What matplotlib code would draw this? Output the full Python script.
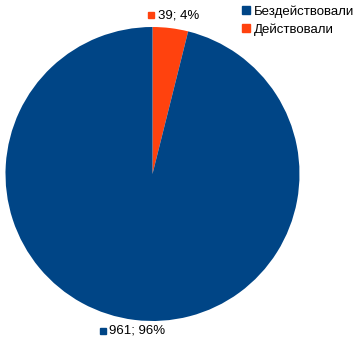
import matplotlib
matplotlib.use("Agg")
import matplotlib.pyplot as plt
from matplotlib.lines import Line2D

plt.rcParams['font.family'] = ['Liberation Sans', 'DejaVu Sans']

categories = ["Действовали", "Бездействовали"]
values = [39, 961]
colors = ["#ff420e", "#004586"]
legend_order = ["Бездействовали", "Действовали"]

W, H = 355, 344
fig = plt.figure(figsize=(W / 100, H / 100), dpi=100)
cx, cy, r = 152.5, 174, 147
ax = fig.add_axes([(cx - r) / W, (H - cy - r) / H, 2 * r / W, 2 * r / H])
wedges, _ = ax.pie(values, colors=colors, startangle=90, counterclock=False,
                   radius=1.0, wedgeprops=dict(linewidth=0))
ax.set_xlim(-1, 1)
ax.set_ylim(-1, 1)
ax.set_aspect('equal')
ax.axis('off')

total = sum(values)
label_pos = [(-0.01, 1.08), (-0.34, -1.065)]
for v, c, (lx, ly) in zip(values, colors, label_pos):
    ax.plot([lx], [ly], marker='s', color=c, markersize=5, clip_on=False)
    ax.text(lx + 0.045, ly, f"{v}; {v / total * 100:.0f}%", fontsize=9.5,
            va='center', ha='left', color='#000000', clip_on=False)

handles = [Line2D([], [], marker='s', linestyle='', markersize=5.5,
                  color=colors[categories.index(n)]) for n in legend_order]
fig.legend(handles, legend_order, loc='upper left', bbox_to_anchor=(242 / W, 1 - 5 / H),
           frameon=False, fontsize=9.5, handlelength=0.6, handletextpad=0.3,
           labelspacing=0.45, borderaxespad=0, borderpad=0)

fig.savefig("out.png", dpi=100)
